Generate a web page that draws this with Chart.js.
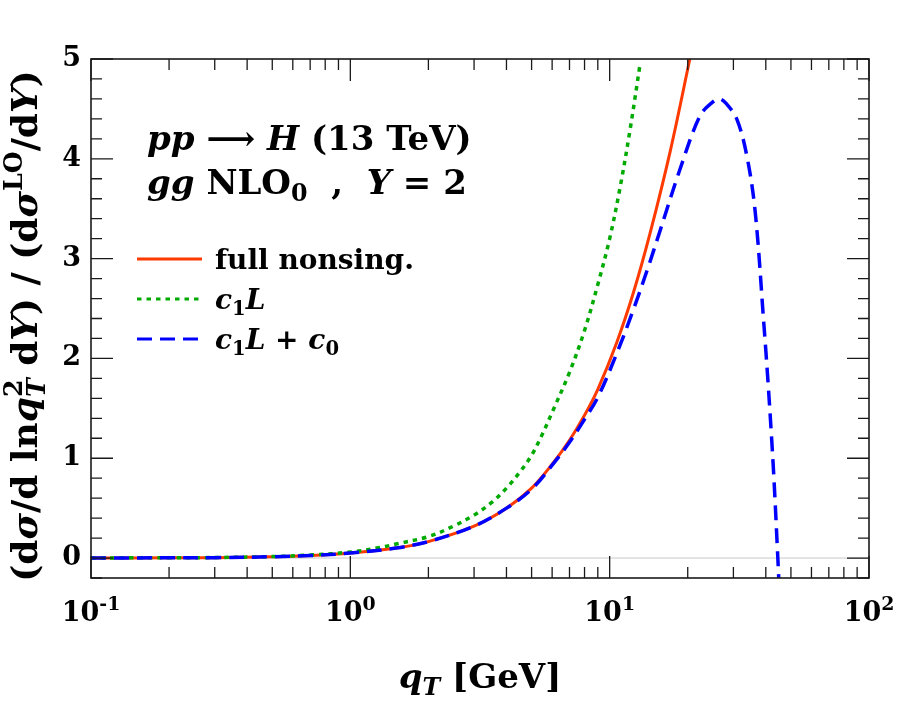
<!DOCTYPE html>
<html>
<head>
<meta charset="utf-8">
<script src="https://cdn.jsdelivr.net/npm/chart.js@4.4.1/dist/chart.umd.min.js"></script>
<style>
  html, body { margin: 0; padding: 0; background: #fff; }
  canvas { display: block; }
</style>
</head>
<body>
<canvas id="Graf" width="900" height="703"></canvas>
<script>
// q_T values [GeV] and ratio values
var qFull = [0.1, 0.2, 0.3, 0.5, 0.7, 1, 1.5, 2, 3, 4, 5, 6, 7, 8, 9, 10.65, 12.35, 14.3, 17.1, 20.3, 20.8];
var fullNonsing = [0.001, 0.002, 0.004, 0.013, 0.025, 0.05, 0.1, 0.165, 0.32, 0.5, 0.7, 0.94, 1.18, 1.43, 1.69, 2.16, 2.66, 3.25, 4.07, 4.98, 5.12];

var qC1L = [0.1, 0.2, 0.3, 0.5, 0.7, 1, 1.3, 1.5, 2, 2.5, 3, 3.5, 4, 4.5, 5, 5.5, 6, 7, 8, 9, 10, 11, 12, 13.05];
var c1L = [0.001, 0.003, 0.005, 0.015, 0.03, 0.06, 0.105, 0.14, 0.215, 0.32, 0.43, 0.555, 0.7, 0.86, 1.03, 1.24, 1.46, 1.86, 2.28, 2.74, 3.2, 3.73, 4.3, 4.92];

var qC1LC0 = [0.1, 0.2, 0.3, 0.5, 0.7, 1, 1.5, 2, 3, 4, 5, 6, 7, 8, 9, 10.65, 12.35, 14.1, 15.6, 18.7, 22.3, 25, 26.5, 28, 30.9, 33.8, 36.4, 39.2, 40.9, 42.8, 44.4, 44.9];
var c1LC0 = [0.001, 0.002, 0.004, 0.013, 0.025, 0.05, 0.1, 0.165, 0.32, 0.5, 0.69, 0.93, 1.16, 1.39, 1.61, 2.05, 2.49, 2.92, 3.27, 3.9, 4.43, 4.57, 4.6, 4.56, 4.4, 4.03, 3.47, 2.39, 1.72, 0.89, 0.06, -0.22];

var xTicks = [0.1, 1, 10, 100];
var xTickExp = ["-1", "0", "1", "2"];
var yTicks = [0, 1, 2, 3, 4, 5];
var yTickLabels = ["0", "1", "2", "3", "4", "5"];

var seriesNames = ["full nonsing.", "c1L", "c1L + c0"];
var seriesColors = ["#ff3a00", "#00aa00", "#0000ff"];
var seriesDash = [[], [4.5, 5], [15, 8]];

var serif = "'DejaVu Serif', serif";

function pts(xs, ys) {
    return xs.map(function (x, i) { return { x: x, y: ys[i] }; });
}

// rich text: parts = [text, style, pos] ; style 'b' or 'bi', pos '' | 'sup' | 'sub' | 'subBack'
function richWidth(ctx, parts, size) {
    var w = 0, lastW = 0;
    parts.forEach(function (p) {
        var s = p[2] ? size * 0.7 : size;
        ctx.font = (p[1] == "bi" ? "italic " : "") + "bold " + s + "px " + serif;
        var pw = ctx.measureText(p[0]).width;
        if (p[2] == "subBack") {
            w += Math.max(0, pw - lastW);
        } else {
            w += pw;
        }
        lastW = pw;
    });
    return w;
}

function drawRich(ctx, parts, x, y, size, align) {
    var w = richWidth(ctx, parts, size);
    var cx = align == "center" ? x - w / 2 : x;
    var lastX = cx, lastW = 0;
    ctx.textBaseline = "alphabetic";
    ctx.textAlign = "left";
    parts.forEach(function (p) {
        var s = p[2] ? size * 0.7 : size;
        ctx.font = (p[1] == "bi" ? "italic " : "") + "bold " + s + "px " + serif;
        var pw = ctx.measureText(p[0]).width;
        var dy = 0;
        if (p[2] == "sup") dy = -size * 0.42;
        if (p[2] == "sub" || p[2] == "subBack") dy = size * 0.22;
        if (p[2] == "subBack") {
            ctx.fillText(p[0], lastX, y + dy);
            cx = lastX + Math.max(pw, lastW);
        } else {
            ctx.fillText(p[0], cx, y + dy);
            lastX = cx;
            cx += pw;
        }
        lastW = pw;
    });
}

var framePlugin = {
    id: "frame",
    beforeDatasetsDraw: function (chart) {
        var ctx = chart.ctx, a = chart.chartArea, ys = chart.scales.y;
        var y0 = ys.getPixelForValue(0);
        ctx.save();
        ctx.strokeStyle = "#c8c8c8";
        ctx.lineWidth = 1;
        ctx.beginPath();
        ctx.moveTo(a.left, y0);
        ctx.lineTo(a.right, y0);
        ctx.stroke();
        ctx.restore();
    },
    afterDatasetsDraw: function (chart) {
        var ctx = chart.ctx, a = chart.chartArea;
        var xs = chart.scales.x, ys = chart.scales.y;
        var major = 22, minor = 11;
        ctx.save();
        ctx.strokeStyle = "#1a1a1a";
        ctx.lineWidth = 1.3;
        ctx.beginPath();
        xTicks.forEach(function (d, i) {
            var px = xs.getPixelForValue(d);
            ctx.moveTo(px, a.bottom); ctx.lineTo(px, a.bottom - major);
            ctx.moveTo(px, a.top); ctx.lineTo(px, a.top + major);
            if (i < xTicks.length - 1) {
                for (var m = 2; m <= 9; m++) {
                    var mx = xs.getPixelForValue(d * m);
                    ctx.moveTo(mx, a.bottom); ctx.lineTo(mx, a.bottom - minor);
                    ctx.moveTo(mx, a.top); ctx.lineTo(mx, a.top + minor);
                }
            }
        });
        for (var k = -1; k <= 25; k++) {
            var v = k * 0.2;
            var py = ys.getPixelForValue(v);
            var len = (k % 5 == 0) ? major : minor;
            ctx.moveTo(a.left, py); ctx.lineTo(a.left + len, py);
            ctx.moveTo(a.right, py); ctx.lineTo(a.right - len, py);
        }
        ctx.stroke();
        ctx.lineWidth = 1.6;
        ctx.strokeRect(a.left, a.top, a.right - a.left, a.bottom - a.top);
        ctx.restore();
    },
    afterDraw: function (chart) {
        var ctx = chart.ctx, a = chart.chartArea;
        var xs = chart.scales.x;
        ctx.save();
        ctx.fillStyle = "#000";

        // x tick labels 10^n
        xTicks.forEach(function (d, i) {
            drawRich(ctx, [["10", "b"], [xTickExp[i], "b", "sup"]], xs.getPixelForValue(d), 621, 27, "center");
        });

        // annotation
        drawRich(ctx, [["pp", "bi"], [" \u27F6 ", "b"], ["H", "bi"], [" (13 TeV)", "b"]], 147, 150, 34, "left");
        drawRich(ctx, [["gg", "bi"], [" NLO", "b"], ["0", "b", "sub"], ["  ,  ", "b"], ["Y", "bi"], [" = 2", "b"]], 147, 194, 34, "left");

        // legend
        var legY = [259, 299, 339];
        var legText = [
            [["full nonsing.", "b"]],
            [["c", "bi"], ["1", "b", "sub"], ["L", "bi"]],
            [["c", "bi"], ["1", "b", "sub"], ["L", "bi"], [" + ", "b"], ["c", "bi"], ["0", "b", "sub"]]
        ];
        for (var i = 0; i < 3; i++) {
            ctx.strokeStyle = seriesColors[i];
            ctx.lineWidth = 3;
            ctx.setLineDash(seriesDash[i]);
            ctx.beginPath();
            ctx.moveTo(137, legY[i]);
            ctx.lineTo(202, legY[i]);
            ctx.stroke();
            ctx.setLineDash([]);
            drawRich(ctx, legText[i], 215, legY[i] + 10, 28, "left");
        }

        // axis titles
        drawRich(ctx, [["q", "bi"], ["T", "bi", "sub"], [" [GeV]", "b"]], (a.left + a.right) / 2, 688, 34, "center");

        ctx.translate(37, 326);
        ctx.rotate(-Math.PI / 2);
        drawRich(ctx, [
            ["(d", "b"], ["\u03C3", "bi"], ["/d ln", "b"], ["q", "bi"], ["2", "b", "sup"], ["T", "bi", "subBack"],
            [" d", "b"], ["Y", "bi"], [") / (d", "b"], ["\u03C3", "bi"], ["LO", "b", "sup"], ["/d", "b"], ["Y", "bi"], [")", "b"]
        ], 0, 0, 36, "center");
        ctx.restore();
    }
};

function makeDataset(i, xs, ys) {
    return {
        label: seriesNames[i],
        data: pts(xs, ys),
        borderColor: seriesColors[i],
        backgroundColor: seriesColors[i],
        borderWidth: i == 0 ? 3 : 3.5,
        borderDash: seriesDash[i],
        pointRadius: 0,
        pointHoverRadius: 0,
        fill: false,
        tension: 0.35,
        order: i == 0 ? 2 : (i == 1 ? 1 : 0)
    };
}

var tickFont = { family: serif, size: 27, weight: "bold" };

var graf = new Chart("Graf", {
    type: "line",
    data: {
        datasets: [
            makeDataset(0, qFull, fullNonsing),
            makeDataset(1, qC1L, c1L),
            makeDataset(2, qC1LC0, c1LC0)
        ]
    },
    options: {
        responsive: false,
        animation: false,
        devicePixelRatio: 1,
        layout: { padding: { left: 0, right: 31, top: 59, bottom: 0 } },
        plugins: {
            legend: { display: false },
            tooltip: { enabled: false }
        },
        scales: {
            x: {
                type: "logarithmic",
                min: 0.1,
                max: 100,
                afterBuildTicks: function (s) {
                    s.ticks = xTicks.map(function (v) { return { value: v }; });
                },
                afterFit: function (s) { s.height = 125; },
                grid: { display: false, drawTicks: false },
                border: { display: false },
                ticks: { display: false }
            },
            y: {
                type: "linear",
                min: -0.2,
                max: 5,
                afterBuildTicks: function (s) {
                    s.ticks = yTicks.map(function (v) { return { value: v }; });
                },
                afterFit: function (s) { s.width = 91; },
                grid: { display: false, drawTicks: false },
                border: { display: false },
                ticks: {
                    padding: 10,
                    color: "#000",
                    font: tickFont,
                    callback: function (v, i) { return yTickLabels[i]; }
                }
            }
        }
    },
    plugins: [framePlugin]
});
</script>
</body>
</html>
